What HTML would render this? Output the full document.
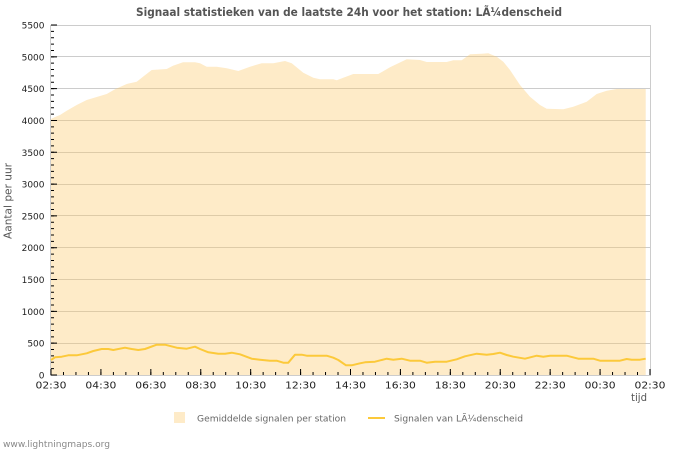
<!DOCTYPE html>
<html>
<head>
<meta charset="utf-8">
<style>
  html, body { margin: 0; padding: 0; background: #fff; }
  svg { display: block; }
  text { font-family: "DejaVu Sans", "Liberation Sans", sans-serif; }
</style>
</head>
<body>
<svg width="700" height="450" viewBox="0 0 700 450" xmlns="http://www.w3.org/2000/svg">
  <rect x="0" y="0" width="700" height="450" fill="#ffffff"/>

  <!-- Title -->
  <text x="349" y="16" text-anchor="middle" font-size="11.5" font-weight="bold" fill="#555555" textLength="426" lengthAdjust="spacingAndGlyphs">Signaal statistieken van de laatste 24h voor het station: LÃ¼denscheid</text>

  <!-- Grid lines -->
  <g stroke="#cccccc" stroke-width="1">
    <line x1="51" y1="343.5" x2="650" y2="343.5"/>
    <line x1="51" y1="311.5" x2="650" y2="311.5"/>
    <line x1="51" y1="279.5" x2="650" y2="279.5"/>
    <line x1="51" y1="247.5" x2="650" y2="247.5"/>
    <line x1="51" y1="215.5" x2="650" y2="215.5"/>
    <line x1="51" y1="184.5" x2="650" y2="184.5"/>
    <line x1="51" y1="152.5" x2="650" y2="152.5"/>
    <line x1="51" y1="120.5" x2="650" y2="120.5"/>
    <line x1="51" y1="88.5" x2="650" y2="88.5"/>
    <line x1="51" y1="56.5" x2="650" y2="56.5"/>
  </g>

  <!-- Area -->
  <polygon fill="rgb(253,203,110)" fill-opacity="0.38" points="51,119 55,117 60,115 66.7,110.7 76.7,105 86.7,100 96.7,97 106.7,94 115,89.3 126.7,84 136.7,81.7 143,76.7 151.7,70 166.7,69 173,65.7 183,62.3 195,62.3 200,63.3 206.7,66.7 216.7,66.7 226.7,68.3 238.3,71 250,66.7 261.7,63.3 273.3,63.3 285,61 291.7,63.3 303.3,72.7 313.3,77.7 320,79.3 333.3,79.3 336.7,80.3 343.3,77.7 353.3,74 378.3,74 390,67.3 406.7,59.3 420,60 426.7,62 446.7,62 453.3,60.3 461.7,60.3 470,54.3 481.7,53.7 488.3,53.3 496.7,56.7 503.3,61.7 510,70 520,85 530,96.7 540,105 546.7,108.7 563.3,109.3 573.3,106.7 586.7,101.7 596.7,94 606.7,90.7 616.7,89 645.7,89 645.7,375 51,375"/>

  <!-- Frame -->
  <rect x="50.5" y="25.5" width="600" height="350" fill="none" stroke="#cccccc" stroke-width="1"/>

  <!-- Y ticks -->
  <line x1="52.5" y1="375.5" x2="52.5" y2="24" stroke="#000" stroke-width="3" stroke-dasharray="1 5.3636"/>
  <line x1="54" y1="375.5" x2="54" y2="24" stroke="#000" stroke-width="6" stroke-dasharray="1 30.818"/>

  <!-- X ticks -->
  <line x1="50.5" y1="373.5" x2="652" y2="373.5" stroke="#000" stroke-width="3" stroke-dasharray="1 11.479"/>
  <line x1="50.5" y1="372" x2="652" y2="372" stroke="#000" stroke-width="6" stroke-dasharray="1 48.917"/>

  <!-- Line series -->
  <polyline fill="none" stroke="#fcc93a" stroke-width="2" stroke-linejoin="round" points="51,360 55,357.3 61.7,356.7 68.3,355.3 76.7,355.3 86.7,353.3 93.3,351 101.7,349 108.3,349 113.3,350 125,347.7 131.7,349 138.3,350 145,349 156.7,344.7 165,344.7 176.7,347.7 186.7,348.7 195,346.7 200,349 208.3,352.3 218.3,353.7 225,353.7 231.7,352.7 240,354.3 251.7,358.7 260,359.7 270,360.7 276.7,360.7 283.3,362.7 288.3,362.7 295,354.7 301.7,354.7 306.7,355.7 326.7,355.7 333.3,357.7 338.3,360 346,365.3 351.7,365.3 360,363.3 365,362.3 375,361.7 386.7,358.7 393.3,359.7 401.7,358.7 410,360.7 420,360.7 426.7,362.7 435,361.7 446.7,361.7 456.7,359.3 465,356.3 476.7,353.7 486.7,354.7 493.3,354 500,352.7 506.7,355 513.3,356.7 525,358.7 536.7,355.7 543.3,356.7 550,355.7 566.7,355.7 578.3,358.7 593.3,358.7 600,360.7 620,360.7 626.7,359 631.7,359.7 640,359.7 645.7,358.7"/>

  <!-- Y labels -->
  <g font-size="9" fill="#222222" text-anchor="end">
    <text x="44.5" y="28.5">5500</text>
    <text x="44.5" y="60.3">5000</text>
    <text x="44.5" y="92.1">4500</text>
    <text x="44.5" y="124">4000</text>
    <text x="44.5" y="155.8">3500</text>
    <text x="44.5" y="187.6">3000</text>
    <text x="44.5" y="219.4">2500</text>
    <text x="44.5" y="251.2">2000</text>
    <text x="44.5" y="283">1500</text>
    <text x="44.5" y="314.9">1000</text>
    <text x="44.5" y="346.7">500</text>
    <text x="44.5" y="378.5">0</text>
  </g>

  <!-- X labels -->
  <g font-size="10" fill="#222222" text-anchor="middle">
    <text x="51" y="388.5" textLength="31" lengthAdjust="spacingAndGlyphs">02:30</text>
    <text x="100.9" y="388.5" textLength="31" lengthAdjust="spacingAndGlyphs">04:30</text>
    <text x="150.8" y="388.5" textLength="31" lengthAdjust="spacingAndGlyphs">06:30</text>
    <text x="200.8" y="388.5" textLength="31" lengthAdjust="spacingAndGlyphs">08:30</text>
    <text x="250.7" y="388.5" textLength="31" lengthAdjust="spacingAndGlyphs">10:30</text>
    <text x="300.6" y="388.5" textLength="31" lengthAdjust="spacingAndGlyphs">12:30</text>
    <text x="350.5" y="388.5" textLength="31" lengthAdjust="spacingAndGlyphs">14:30</text>
    <text x="400.4" y="388.5" textLength="31" lengthAdjust="spacingAndGlyphs">16:30</text>
    <text x="450.3" y="388.5" textLength="31" lengthAdjust="spacingAndGlyphs">18:30</text>
    <text x="500.3" y="388.5" textLength="31" lengthAdjust="spacingAndGlyphs">20:30</text>
    <text x="550.2" y="388.5" textLength="31" lengthAdjust="spacingAndGlyphs">22:30</text>
    <text x="600.1" y="388.5" textLength="31" lengthAdjust="spacingAndGlyphs">00:30</text>
    <text x="650" y="388.5" textLength="31" lengthAdjust="spacingAndGlyphs">02:30</text>
  </g>

  <!-- Axis titles -->
  <text x="631" y="401" font-size="10.5" fill="#555555" textLength="16" lengthAdjust="spacingAndGlyphs">tijd</text>
  <text transform="translate(11.5,201) rotate(-90)" text-anchor="middle" font-size="10.5" fill="#555555" textLength="76" lengthAdjust="spacingAndGlyphs">Aantal per uur</text>

  <!-- Legend -->
  <rect x="174" y="412" width="11" height="11" fill="rgb(253,203,110)" fill-opacity="0.38"/>
  <text x="197" y="421.3" font-size="9" fill="#666666" textLength="149" lengthAdjust="spacingAndGlyphs">Gemiddelde signalen per station</text>
  <line x1="368" y1="418" x2="385" y2="418" stroke="#fcc93a" stroke-width="2"/>
  <text x="394" y="421.3" font-size="9" fill="#666666" textLength="129" lengthAdjust="spacingAndGlyphs">Signalen van LÃ¼denscheid</text>

  <!-- Watermark -->
  <text x="3" y="447" font-size="9" fill="#888888" textLength="107" lengthAdjust="spacingAndGlyphs">www.lightningmaps.org</text>
</svg>
</body>
</html>
